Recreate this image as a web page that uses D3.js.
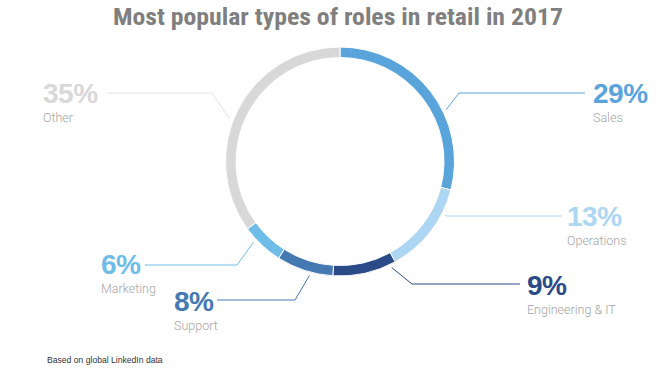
<!DOCTYPE html>
<html><head><meta charset="utf-8">
<script src="https://cdn.jsdelivr.net/npm/d3@7"></script>
<style>body{margin:0;background:#fff}svg{display:block}</style>
</head><body>
<svg id="c" width="670" height="368"></svg>
<script>
const categories = ["Sales","Operations","Engineering & IT","Support","Marketing","Other"];
const values = [29,13,9,8,6,35];
const colors = ["#5aa4dc","#acd6f1","#2b4b88","#4579b1","#6dbde8","#d8d8d8"];
const title = "Most popular types of roles in retail in 2017";
const footnote = "Based on global LinkedIn data";

// label layout (annotation positions)
const layout = [
  {angle:64,  lineY:93,  elbowX:459, endX:585, textX:593, anchor:"start", pctY:103},
  {angle:117, lineY:216, elbowX:447, endX:562, textX:567, anchor:"start", pctY:226},
  {angle:154, lineY:284, elbowX:412, endX:520, textX:527, anchor:"start", pctY:295},
  {angle:195, lineY:300, elbowX:295, endX:217, textX:174, anchor:"start", pctY:311},
  {angle:227, lineY:265, elbowX:237, endX:145, textX:101, anchor:"start", pctY:274},
  {angle:291, lineY:93,  elbowX:212, endX:107, textX:43,  anchor:"start", pctY:103}
];

const svg = d3.select("#c");
const cx = 340, cy = 161.5, rOuter = 114.5, rInner = 104, rLead = 118;

svg.append("text").attr("x",113).attr("y",25)
  .attr("font-family","'Liberation Sans Narrow','Roboto Condensed','DejaVu Sans Condensed','Liberation Sans',sans-serif")
  .attr("font-weight","bold").attr("font-size",24).attr("fill","#7f7f7f")
  .attr("textLength",450).attr("lengthAdjust","spacingAndGlyphs")
  .text(title);

const pie = d3.pie().sort(null).value(d=>d)(values);
const arc = d3.arc().innerRadius(rInner).outerRadius(rOuter);
const g = svg.append("g").attr("transform",`translate(${cx},${cy})`);
g.selectAll("path").data(pie).join("path")
  .attr("d",arc).attr("fill",(d,i)=>colors[i])
  .attr("stroke","#fff").attr("stroke-width",1);

const lineColors = colors.map((c,i)=> i===5 ? "#e2e2e2" : c);
layout.forEach((L,i)=>{
  const p = d3.pointRadial(L.angle*Math.PI/180, rLead);
  const pts = [[cx+p[0], cy+p[1]],[L.elbowX,L.lineY],[L.endX,L.lineY]];
  svg.append("path").attr("d",d3.line()(pts)).attr("fill","none")
    .attr("stroke",lineColors[i]).attr("stroke-width",1);
  svg.append("text").attr("x",L.textX).attr("y",L.pctY)
    .attr("font-family","'Liberation Sans',Arial,sans-serif").attr("font-weight","bold")
    .attr("font-size",28).attr("letter-spacing",-0.5).attr("fill",colors[i])
    .text(values[i]+"%");
  svg.append("text").attr("x",L.textX).attr("y",L.pctY+19)
    .attr("font-family","Roboto,'Liberation Sans',sans-serif").attr("font-weight",300)
    .attr("font-size",12.5).attr("fill","#a5a5a5")
    .text(categories[i]);
});

svg.append("text").attr("x",47).attr("y",363)
  .attr("font-family","'Liberation Sans',Arial,sans-serif").attr("font-size",8.6)
  .attr("fill","#333").text(footnote);
</script>
</body></html>
